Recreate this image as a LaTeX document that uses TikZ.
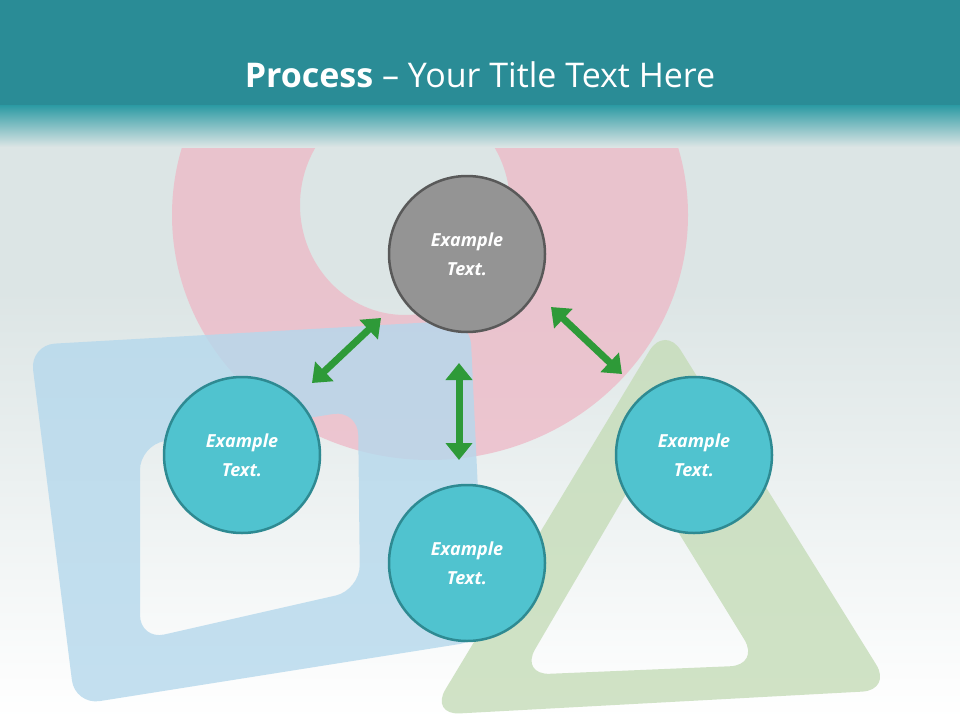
\documentclass[tikz,border=0pt]{standalone}
\usepackage{fontspec}
\setmainfont{Open Sans}
\usetikzlibrary{arrows.meta}
\definecolor{teal1}{HTML}{2A8C96}
\definecolor{teal2}{HTML}{2B9AA3}
\definecolor{bg1}{HTML}{DCE5E5}
\definecolor{pinkr}{HTML}{EEB8C6}
\definecolor{bluer}{HTML}{B5D8EC}
\definecolor{greenr}{HTML}{C5DCB8}
\definecolor{cyanf}{HTML}{50C3CF}
\definecolor{cyanb}{HTML}{2E8A92}
\definecolor{arrg}{HTML}{2E9A38}
\tikzset{
 circ/.style={circle,minimum size=156pt,line width=2.5pt,draw=cyanb,fill=cyanf,text=white,align=center,font=\fontsize{18}{29}\selectfont\bfseries\itshape},
 garrow/.style={line width=7pt,arrg,{Triangle[length=17pt,width=26pt]}-{Triangle[length=17pt,width=26pt]},shorten <=0pt,shorten >=0pt}
}
\begin{document}
\begin{tikzpicture}[x=1pt,y=-1pt]
\useasboundingbox (0,0) rectangle (960,720);
\fill[bg1] (0,0) rectangle (960,720);
\shade[top color=bg1,bottom color=white] (0,290) rectangle (960,720);
% pink ring
\fill[pinkr,opacity=0.75,even odd rule] (430,215) ellipse (258 and 245) (405,205) ellipse (105 and 110);
% blue frame
\fill[bluer,opacity=0.8,even odd rule,rounded corners=25] (30,345) -- (470,320) -- (485,640) -- (75,705) -- cycle
 (140,445) -- (358,410) -- (360,590) -- (140,640) -- cycle;
% green triangle
\fill[greenr,opacity=0.8,even odd rule,rounded corners=30] (665,325) -- (892,690) -- (430,715) -- cycle
 (640,470) -- (760,665) -- (520,675) -- cycle;
% header
\fill[teal1] (0,0) rectangle (960,110);
\shade[top color=teal2,bottom color=bg1] (0,105) rectangle (960,147);
\node[text=white,font=\fontsize{34}{40}\selectfont] (title) at (480,75) {\textbf{Process} -- Your Title Text Here};
% circles
\node[circ,draw=black!65,fill=black!42] (top) at (467,254) {Example\\Text.};
\node[circ] (left) at (242,455) {Example\\Text.};
\node[circ] (bot) at (467,563) {Example\\Text.};
\node[circ] (right) at (694,455) {Example\\Text.};
\coordinate (a1) at (312,383); \coordinate (a2) at (381,318);
\coordinate (b1) at (459,363); \coordinate (b2) at (459,460);
\coordinate (c1) at (551,307); \coordinate (c2) at (622,374);
\draw[garrow] (a1) -- (a2);
\draw[garrow] (b1) -- (b2);
\draw[garrow] (c1) -- (c2);
\end{tikzpicture}
\end{document}
